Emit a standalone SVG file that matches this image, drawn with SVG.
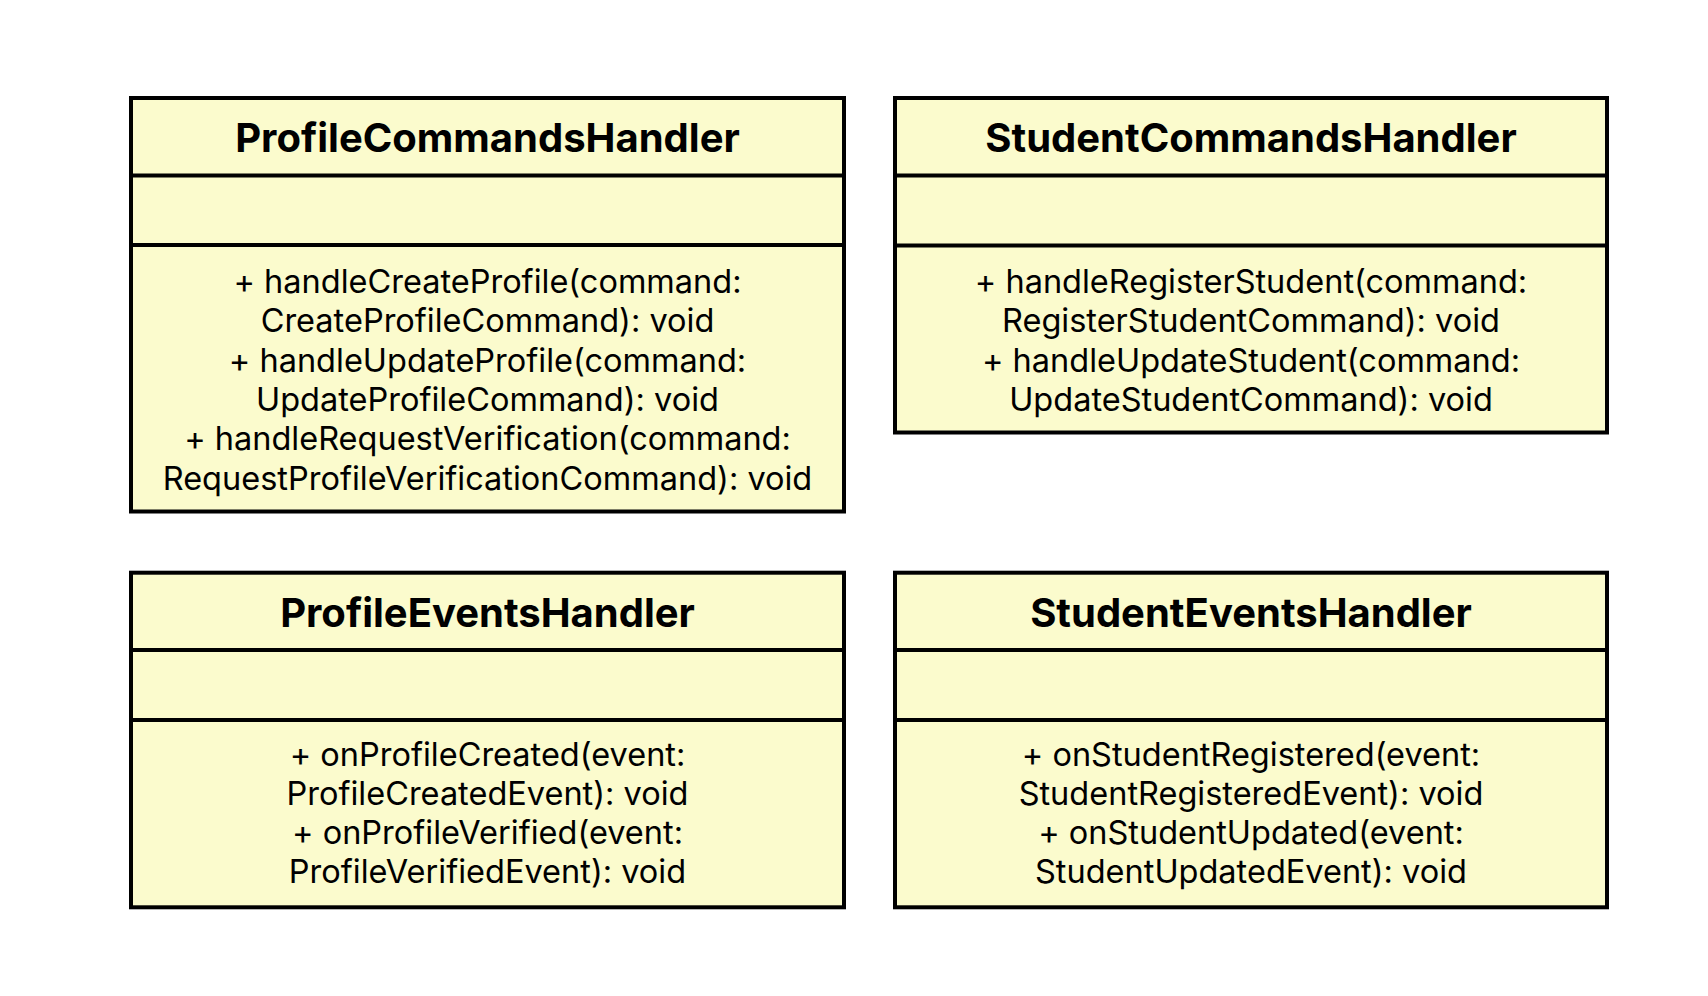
<svg xmlns="http://www.w3.org/2000/svg" width="1708" height="996" viewBox="0 0 1708 996">
<style>
.box{fill:#FBFBCD;stroke:#000;stroke-width:4}
.div{stroke:#000;stroke-width:4}
.title{font-family:Inter,"Liberation Sans",sans-serif;font-weight:700;font-size:40px;text-anchor:middle;fill:#000}
.body{font-family:Inter,"Liberation Sans",sans-serif;font-size:32.5px;text-anchor:middle;fill:#000}
</style>
<rect width="1708" height="996" fill="#fff"/>
<g id="ProfileCommandsHandler">
<rect class="box" x="131" y="98" width="713" height="413.5"/>
<line class="div" x1="131" y1="175.5" x2="844" y2="175.5"/>
<line class="div" x1="131" y1="245" x2="844" y2="245"/>
<text class="title" x="487.5" y="151.5">ProfileCommandsHandler</text>
<text class="body" x="487.5" y="293">+ handleCreateProfile(command:</text>
<text class="body" x="487.5" y="332.3">CreateProfileCommand): void</text>
<text class="body" x="487.5" y="371.6">+ handleUpdateProfile(command:</text>
<text class="body" x="487.5" y="410.9">UpdateProfileCommand): void</text>
<text class="body" x="487.5" y="450.2">+ handleRequestVerification(command:</text>
<text class="body" x="487.5" y="489.5">RequestProfileVerificationCommand): void</text>
</g>
<g id="StudentCommandsHandler">
<rect class="box" x="895" y="98" width="712" height="334.5"/>
<line class="div" x1="895" y1="175.5" x2="1607" y2="175.5"/>
<line class="div" x1="895" y1="245.5" x2="1607" y2="245.5"/>
<text class="title" x="1251" y="151.5">StudentCommandsHandler</text>
<text class="body" x="1251" y="293">+ handleRegisterStudent(command:</text>
<text class="body" x="1251" y="332.3">RegisterStudentCommand): void</text>
<text class="body" x="1251" y="371.6">+ handleUpdateStudent(command:</text>
<text class="body" x="1251" y="410.9">UpdateStudentCommand): void</text>
</g>
<g id="ProfileEventsHandler">
<rect class="box" x="131" y="572.7" width="713" height="334.6"/>
<line class="div" x1="131" y1="650" x2="844" y2="650"/>
<line class="div" x1="131" y1="720" x2="844" y2="720"/>
<text class="title" x="487.5" y="626.5">ProfileEventsHandler</text>
<text class="body" x="487.5" y="765.5">+ onProfileCreated(event:</text>
<text class="body" x="487.5" y="804.7">ProfileCreatedEvent): void</text>
<text class="body" x="487.5" y="843.9">+ onProfileVerified(event:</text>
<text class="body" x="487.5" y="883.1">ProfileVerifiedEvent): void</text>
</g>
<g id="StudentEventsHandler">
<rect class="box" x="895" y="572.7" width="712" height="334.6"/>
<line class="div" x1="895" y1="650" x2="1607" y2="650"/>
<line class="div" x1="895" y1="720" x2="1607" y2="720"/>
<text class="title" x="1251" y="626.5">StudentEventsHandler</text>
<text class="body" x="1251" y="765.5">+ onStudentRegistered(event:</text>
<text class="body" x="1251" y="804.7">StudentRegisteredEvent): void</text>
<text class="body" x="1251" y="843.9">+ onStudentUpdated(event:</text>
<text class="body" x="1251" y="883.1">StudentUpdatedEvent): void</text>
</g>
<g id="connectors"></g>
</svg>
